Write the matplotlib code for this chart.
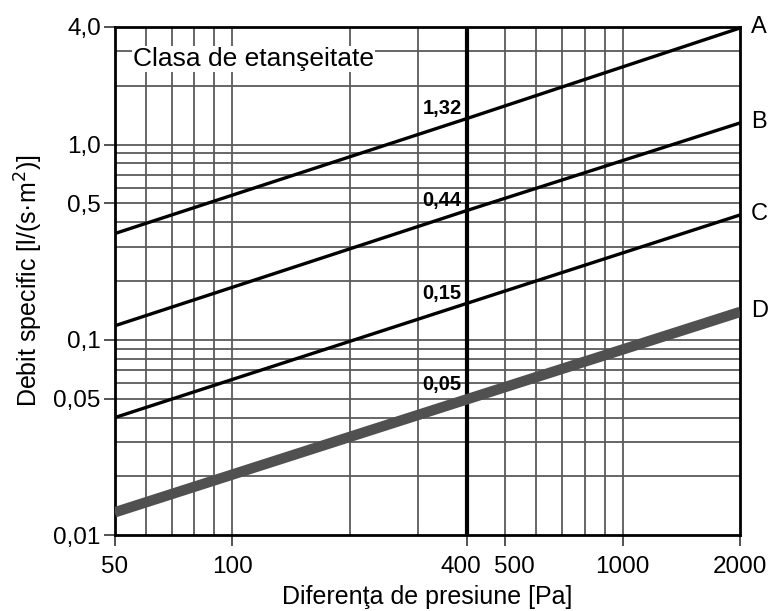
import matplotlib.pyplot as plt
import matplotlib.transforms as mtransforms
from matplotlib.ticker import FixedLocator, FixedFormatter, NullLocator

# date
presiune = [50, 400, 2000]
clasa_A = [0.35, 1.36, 3.95]
clasa_B = [0.118, 0.46, 1.29]
clasa_C = [0.040, 0.154, 0.436]
clasa_D = [0.0131, 0.0497, 0.139]
clase = ["A", "B", "C", "D"]
valori_400 = ["1,32", "0,44", "0,15", "0,05"]

x_ticks = [50, 100, 400, 500, 1000, 2000]
x_tick_labels = ["50", "100", "400", "500", "1000", "2000"]
y_ticks = [0.01, 0.05, 0.1, 0.5, 1.0, 4.0]
y_tick_labels = ["0,01", "0,05", "0,1", "0,5", "1,0", "4,0"]
x_grid = [60, 70, 80, 90, 100, 200, 300, 500, 600, 700, 800, 900, 1000]
y_grid = [0.02, 0.03, 0.04, 0.05, 0.06, 0.07, 0.08, 0.09, 0.1,
          0.2, 0.3, 0.4, 0.5, 0.6, 0.7, 0.8, 0.9, 1.0, 2.0, 3.0]

plt.rcParams['font.family'] = ['Liberation Sans', 'DejaVu Sans']

fig = plt.figure(figsize=(7.75, 6.11), dpi=100)
ax = fig.add_axes([0.148, 0.124, 0.807, 0.832])
ax.set_xscale('log')
ax.set_yscale('log')
ax.set_xlim(50, 2000)
ax.set_ylim(0.01, 4.0)

# grila
for gx in x_grid:
    ax.axvline(gx, color='#5a5a5a', lw=1.3, zorder=1)
for gy in y_grid:
    ax.axhline(gy, color='#5a5a5a', lw=1.3, zorder=1)
ax.axvline(400, color='black', lw=3, zorder=2)

serii = [clasa_A, clasa_B, clasa_C, clasa_D]
for i, (nume, y) in enumerate(zip(clase, serii)):
    if nume == "D":
        ax.plot(presiune, y, color='#505050', lw=7.5, solid_capstyle='butt', zorder=3)
    else:
        ax.plot(presiune, y, color='black', lw=2.4, zorder=3)
    ax.annotate(nume, (presiune[-1], y[-1]), xytext=(8, 1), textcoords='offset points',
                ha='left', va='center', fontsize=17, annotation_clip=False)
    ax.annotate(valori_400[i], (400, y[1]), xytext=(-4, 0 if nume != "D" else 4),
                textcoords='offset points', ha='right', va='bottom',
                fontsize=14.5, fontweight='bold', zorder=4)

ax.text(0.029, 0.937, "Clasa de etanşeitate", transform=ax.transAxes, fontsize=19,
        ha='left', va='center', zorder=5,
        bbox=dict(facecolor='white', edgecolor='none', pad=1))

ax.xaxis.set_major_locator(FixedLocator(x_ticks))
ax.xaxis.set_major_formatter(FixedFormatter(x_tick_labels))
ax.xaxis.set_minor_locator(NullLocator())
ax.yaxis.set_major_locator(FixedLocator(y_ticks))
ax.yaxis.set_major_formatter(FixedFormatter(y_tick_labels))
ax.yaxis.set_minor_locator(NullLocator())
ax.tick_params(axis='x', which='major', direction='out', length=8, width=1.3,
               labelsize=17.5, color='#444444', pad=7)
ax.tick_params(axis='y', which='major', direction='out', length=8, width=1.3,
               labelsize=17.5, color='#444444', pad=2)

# etichetele 400 si 500 sunt apropiate, le departam putin
fig.canvas.draw()
for lbl in ax.get_xticklabels():
    if lbl.get_text() == "400":
        lbl.set_transform(lbl.get_transform() + mtransforms.ScaledTranslation(-6 / 100, 0, fig.dpi_scale_trans))
    elif lbl.get_text() == "500":
        lbl.set_transform(lbl.get_transform() + mtransforms.ScaledTranslation(9 / 100, 0, fig.dpi_scale_trans))

for s in ax.spines.values():
    s.set_linewidth(2)
    s.set_color('black')

ax.set_xlabel("Diferenţa de presiune [Pa]", fontsize=18, labelpad=5)
ax.set_ylabel("Debit specific [l/(s·m$^2$)]", fontsize=18, labelpad=6)

fig.savefig("out.png", dpi=100)
